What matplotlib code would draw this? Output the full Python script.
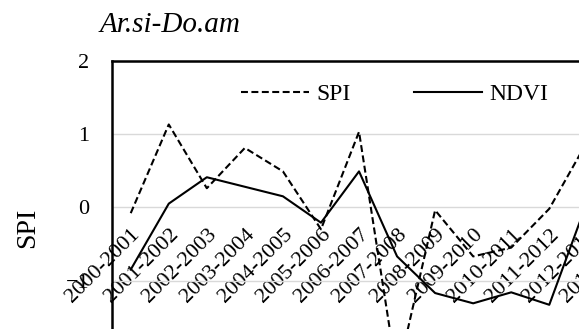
import numpy as np
import matplotlib
matplotlib.use("Agg")
import matplotlib.pyplot as plt
import matplotlib.transforms as mtransforms
from matplotlib.lines import Line2D

# Data (2013-2014 lies outside the visible area)
seasons = ['2000-2001', '2001-2002', '2002-2003', '2003-2004', '2004-2005',
           '2005-2006', '2006-2007', '2007-2008', '2008-2009', '2009-2010',
           '2010-2011', '2011-2012', '2012-2013', '2013-2014']
spi = [-0.08, 1.13, 0.26, 0.81, 0.49, -0.30, 1.03, -2.30, -0.04, -0.67,
       -0.55, -0.02, 0.90, np.nan]
ndvi = [-0.85, 0.05, 0.41, 0.28, 0.15, -0.21, 0.49, -0.67, -1.17, -1.31,
        -1.16, -1.33, 0.08, np.nan]

plt.rcParams['font.family'] = ['Liberation Serif', 'DejaVu Serif']
plt.rcParams['lines.scale_dashes'] = False

W, H = 579, 329
fig = plt.figure(figsize=(W / 100, H / 100), dpi=100)
fig.patch.set_facecolor('white')

# plot area (partly outside the picture, like the cropped original)
left_px, top_px = 111.7, 60.7
step_px, unit_px = 38.05, 73.3
ymin, ymax = -3, 2
ax_w = step_px * len(seasons)
ax_h = unit_px * (ymax - ymin)
ax = fig.add_axes([left_px / W, 1 - (top_px + ax_h) / H, ax_w / W, ax_h / H])

x = np.arange(len(seasons))
ax.plot(x, spi, color='black', linewidth=1.5, linestyle=(0, (5, 2.5)), zorder=3)
ax.plot(x, ndvi, color='black', linewidth=1.5, zorder=3)

ax.set_xlim(-0.5, len(seasons) - 0.5)
ax.set_ylim(ymin, ymax)
ax.set_yticks(range(ymin, ymax + 1))
ax.grid(axis='y', color='#d9d9d9', linewidth=1.0)
ax.set_axisbelow(True)

for side in ['left', 'top', 'right']:
    ax.spines[side].set_color('black')
    ax.spines[side].set_linewidth(1.8)
ax.spines['bottom'].set_position(('data', 0))
ax.spines['bottom'].set_visible(False)

ax.set_xticks(x)
ax.set_xticklabels(seasons, rotation=45, ha='right', va='top',
                   rotation_mode='anchor', fontsize=16)
shift = mtransforms.ScaledTranslation(-4 / 100, 0, fig.dpi_scale_trans)
for lab in ax.get_xticklabels():
    lab.set_transform(lab.get_transform() + shift)
ax.tick_params(axis='x', length=0, pad=13)
ax.tick_params(axis='y', length=0, pad=16, labelsize=16)

# title and axis title
fig.text(100 / W, 1 - 25 / H, 'Ar.si-Do.am', fontsize=21, style='italic',
         ha='left', va='center')
fig.text(28 / W, 1 - 228 / H, 'SPI', fontsize=20, rotation=90,
         ha='center', va='center')

handles = [Line2D([], [], color='black', linewidth=1.5, linestyle=(0, (5, 2.5))),
           Line2D([], [], color='black', linewidth=1.5)]
fig.legend(handles, ['SPI', 'NDVI'], loc='center left',
           bbox_to_anchor=(241 / W, 1 - 94 / H), bbox_transform=fig.transFigure,
           ncol=2, frameon=False, fontsize=17, borderpad=0, borderaxespad=0,
           handlelength=2.9, handletextpad=0.3, columnspacing=2.65)

fig.savefig('out.png', dpi=100, facecolor='white')
